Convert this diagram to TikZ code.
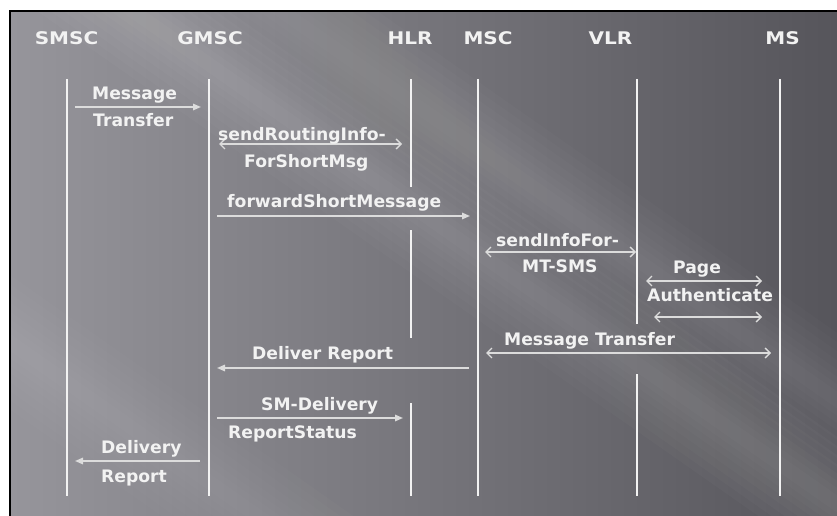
\documentclass[tikz,border=0pt]{standalone}
\usepackage{fontspec}
\usepackage{graphicx}
\setmainfont{DejaVu Sans}
\usetikzlibrary{arrows.meta}
\definecolor{bgL}{RGB}{150,149,155}
\definecolor{bgR}{RGB}{86,85,91}
\definecolor{txt}{RGB}{242,242,242}
\definecolor{ln}{RGB}{242,242,242}
\definecolor{arr}{RGB}{220,220,220}
\begin{document}
\begin{tikzpicture}[x=1pt,y=-1pt,
  hdr/.style={text=txt, font=\bfseries\fontsize{17.4}{20}\selectfont, anchor=base, inner sep=0pt},
  lbl/.style={text=txt, font=\bfseries\fontsize{17.2}{20}\selectfont, anchor=base west, inner sep=0pt},
  life/.style={draw=ln, line width=2pt},
  msg/.style={draw=arr, line width=1.5pt, -{Triangle[length=8pt,width=6.5pt]}},
  dmsg/.style={draw=arr, line width=1.3pt, {Straight Barb[length=5pt,width=10pt]}-{Straight Barb[length=5pt,width=10pt]}},
  streak/.style={white, line cap=butt}]
\useasboundingbox (0,0) rectangle (837,516);
\fill[white] (0,0) rectangle (837,516);
% background
\shade[left color=bgL, right color=bgR] (10,11) rectangle (837,516);
\begin{scope}
  \clip (10,11) rectangle (837,516);
  \foreach \w in {110,95,80,65,50,38,26,14} {
    \draw[streak, opacity=0.018, line width=\w pt] (60,-40) -- (900,548);
    \draw[streak, opacity=0.016, line width=\w pt] (-150,230) -- (420,630);
    \draw[streak, opacity=0.014, line width=\w pt] (180,-60) -- (900,444);
  }
\end{scope}
\draw[black, line width=1.4pt] (10,516) -- (10,11) -- (837,11);
% headers
\node[hdr] (hSMSC) at (66.5,45) {\scalebox{1.15}[1]{SMSC}};
\node[hdr] (hGMSC) at (210,45) {\scalebox{1.15}[1]{GMSC}};
\node[hdr] (hHLR) at (410,45) {\scalebox{1.15}[1]{HLR}};
\node[hdr] (hMSC) at (488,45) {\scalebox{1.15}[1]{MSC}};
\node[hdr] (hVLR) at (610.5,45) {\scalebox{1.15}[1]{VLR}};
\node[hdr] (hMS) at (782.5,45) {\scalebox{1.15}[1]{MS}};
% lifeline coordinates
\coordinate (smscT) at (67,79);  \coordinate (smscB) at (67,496);
\coordinate (gmscT) at (209,79); \coordinate (gmscB) at (209,496);
\coordinate (hlrT) at (411,79);  \coordinate (hlrA) at (411,187);
\coordinate (hlrC) at (411,230); \coordinate (hlrD) at (411,338);
\coordinate (hlrE) at (411,403); \coordinate (hlrB) at (411,496);
\coordinate (mscT) at (478,79);  \coordinate (mscB) at (478,496);
\coordinate (vlrT) at (637,79);  \coordinate (vlrA) at (637,324);
\coordinate (vlrC) at (637,374); \coordinate (vlrB) at (637,496);
\coordinate (msT) at (780,79);   \coordinate (msB) at (780,496);
\draw[life] (smscT) -- (smscB);
\draw[life] (gmscT) -- (gmscB);
\draw[life] (hlrT) -- (hlrA);
\draw[life] (hlrC) -- (hlrD);
\draw[life] (hlrE) -- (hlrB);
\draw[life] (mscT) -- (mscB);
\draw[life] (vlrT) -- (vlrA);
\draw[life] (vlrC) -- (vlrB);
\draw[life] (msT) -- (msB);
% message endpoints
\coordinate (m1s) at (75,107);  \coordinate (m1e) at (201,107);
\coordinate (m2s) at (219,144); \coordinate (m2e) at (402,144);
\coordinate (m3s) at (217,216); \coordinate (m3e) at (470,216);
\coordinate (m4s) at (485,252); \coordinate (m4e) at (636,252);
\coordinate (m5s) at (646,281); \coordinate (m5e) at (762,281);
\coordinate (m6s) at (654,317); \coordinate (m6e) at (762,317);
\coordinate (m7s) at (486,353); \coordinate (m7e) at (771,353);
\coordinate (m8s) at (469,368); \coordinate (m8e) at (217,368);
\coordinate (m9s) at (217,418); \coordinate (m9e) at (403,418);
\coordinate (m10s) at (200,461); \coordinate (m10e) at (75,461);
\draw[msg] (m1s) -- (m1e);
\draw[dmsg] (m2s) -- (m2e);
\draw[msg] (m3s) -- (m3e);
\draw[dmsg] (m4s) -- (m4e);
\draw[dmsg] (m5s) -- (m5e);
\draw[dmsg] (m6s) -- (m6e);
\draw[dmsg] (m7s) -- (m7e);
\draw[msg] (m8s) -- (m8e);
\draw[msg] (m9s) -- (m9e);
\draw[msg] (m10s) -- (m10e);
% labels
\node[lbl] (l1a) at (92,100) {Message};
\node[lbl] (l1b) at (93,127) {Transfer};
\node[lbl] (l2a) at (218,140) {sendRoutingInfo-};
\node[lbl] (l2b) at (244,167.5) {ForShortMsg};
\node[lbl] (l3) at (227,207.5) {forwardShortMessage};
\node[lbl] (l4a) at (496,246) {sendInfoFor-};
\node[lbl] (l4b) at (522,272.5) {MT-SMS};
\node[lbl] (l5) at (673,273) {Page};
\node[lbl] (l6) at (647,301) {Authenticate};
\node[lbl] (l7) at (504,345) {Message Transfer};
\node[lbl] (l8) at (252,359) {Deliver Report};
\node[lbl] (l9a) at (261,410) {SM-Delivery};
\node[lbl] (l9b) at (228,438.5) {ReportStatus};
\node[lbl] (l10a) at (101,453) {Delivery};
\node[lbl] (l10b) at (101,482) {Report};
\end{tikzpicture}
\end{document}
